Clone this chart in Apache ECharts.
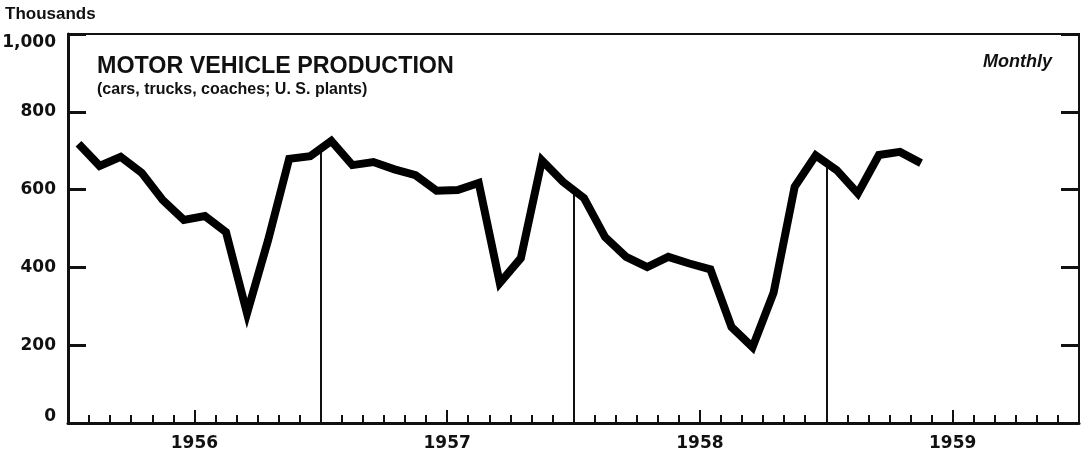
<!DOCTYPE html>
<html>
<head>
<meta charset="utf-8">
<script src="https://cdn.jsdelivr.net/npm/echarts@6/dist/echarts.min.js"></script>
<style>html,body{margin:0;padding:0;background:#fff}#c{width:1081px;height:455px}</style>
</head>
<body>
<div id="c"></div>
<script>
// Monthly motor vehicle production, thousands (Jan 1956 – May 1959)
const years = ['1956', '1957', '1958', '1959'];
const prod1956 = [718, 661, 684, 643, 573, 522, 532, 491, 282, 470, 679, 686];
const prod1957 = [725, 663, 671, 652, 637, 597, 599, 617, 360, 424, 675, 620];
const prod1958 = [578, 478, 427, 401, 427, 410, 395, 247, 195, 335, 607, 688];
const prod1959 = [650, 590, 689, 697, 668];
const yTicks = [0, 200, 400, 600, 800, 1000];

const all = prod1956.concat(prod1957, prod1958, prod1959);
const lineData = all.map((v, i) => [i + 0.5, v]);
// vertical year-boundary rules from the axis up to the curve
const boundaries = [12, 24, 36].map(b => {
  const mid = (all[b - 1] + all[b]) / 2;
  return [{ coord: [b, 0] }, { coord: [b, mid] }];
});

const FONT_NUM = 'DejaVu Sans';
const FONT_TXT = 'Liberation Sans';
const ink = '#111';

const chart = echarts.init(document.getElementById('c'), null, { renderer: 'canvas' });
chart.setOption({
  backgroundColor: '#fff',
  animation: false,
  title: [
    { text: 'Thousands', left: 5, top: 6, padding: 0,
      textStyle: { fontFamily: FONT_TXT, fontWeight: 'bold', fontSize: 17, color: ink } },
    { text: 'MOTOR VEHICLE PRODUCTION', left: 97, top: 55, padding: 0,
      subtext: '(cars, trucks, coaches; U. S. plants)', itemGap: 4,
      textStyle: { fontFamily: FONT_TXT, fontWeight: 'bold', fontSize: 23.3, color: ink },
      subtextStyle: { fontFamily: FONT_TXT, fontWeight: 'bold', fontSize: 16, color: ink } },
    { text: 'Monthly', right: 29, top: 53, padding: 0,
      textStyle: { fontFamily: FONT_TXT, fontWeight: 'bold', fontStyle: 'italic', fontSize: 18, color: ink } }
  ],
  grid: { left: 68, right: 2, top: 34, bottom: 32, show: true, borderColor: ink, borderWidth: 2,
    backgroundColor: 'transparent', containLabel: false, outerBoundsMode: 'none' },
  xAxis: [
    { type: 'value', min: 0, max: 48, interval: 1,
      axisLine: { show: true, onZero: false, lineStyle: { color: ink, width: 3 } },
      axisTick: { show: true, inside: true, length: 8, lineStyle: { color: ink, width: 2 } },
      axisLabel: { show: false }, splitLine: { show: false } },
    { type: 'value', min: 0, max: 48, interval: 6, position: 'bottom',
      axisLine: { show: false, onZero: false },
      axisTick: { show: true, inside: true, length: 13, lineStyle: { color: ink, width: 2 } },
      axisLabel: { show: true, margin: 12, fontFamily: FONT_NUM, fontWeight: 'bold', fontSize: 17, color: ink,
        formatter: v => (v % 12 === 6 ? years[(v - 6) / 12] : '') },
      splitLine: { show: false } }
  ],
  yAxis: [
    { type: 'value', min: 0, max: 1000, interval: 200, position: 'left',
      axisLine: { show: true, onZero: false, lineStyle: { color: ink, width: 3 } },
      axisTick: { show: true, inside: true, length: 18, lineStyle: { color: ink, width: 3 } },
      splitLine: { show: false },
      axisLabel: { show: true, margin: 12, fontFamily: FONT_NUM, fontWeight: 'bold', fontSize: 17, color: ink,
        formatter: v => {
          const s = v.toLocaleString('en-US');
          if (v === yTicks[yTicks.length - 1]) return '{top|' + s + '}';
          if (v === yTicks[0]) return '{bot|' + s + '}';
          return s;
        },
        rich: {
          top: { fontFamily: FONT_NUM, fontWeight: 'bold', fontSize: 17, color: ink, padding: [18, 0, 0, 0] },
          bot: { fontFamily: FONT_NUM, fontWeight: 'bold', fontSize: 17, color: ink, padding: [0, 0, 12, 0] }
        } } },
    { type: 'value', min: 0, max: 1000, interval: 200, position: 'right',
      axisLine: { show: true, onZero: false, lineStyle: { color: ink, width: 2 } },
      axisTick: { show: true, inside: true, length: 18, lineStyle: { color: ink, width: 3 } },
      axisLabel: { show: false }, splitLine: { show: false } }
  ],
  series: [{
    type: 'line', xAxisIndex: 0, yAxisIndex: 0,
    data: lineData, showSymbol: false, symbol: 'none',
    lineStyle: { color: '#000', width: 8, join: 'miter', cap: 'butt', miterLimit: 6 },
    z: 5,
    markLine: { silent: true, symbol: 'none', label: { show: false },
      lineStyle: { color: ink, width: 2, type: 'solid' }, data: boundaries, z: 3 }
  }]
});
</script>
</body>
</html>
